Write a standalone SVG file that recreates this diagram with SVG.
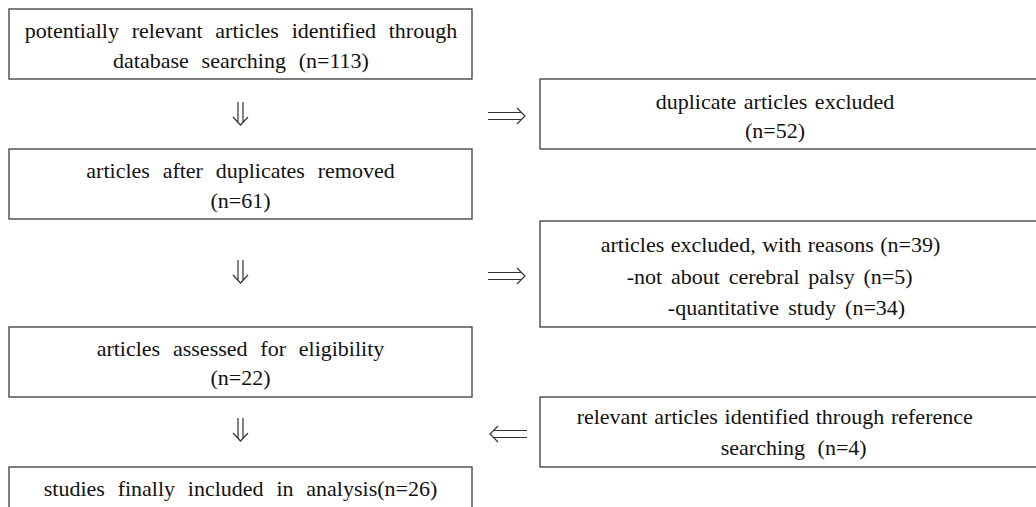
<svg xmlns="http://www.w3.org/2000/svg" width="1036" height="507" viewBox="0 0 1036 507">
<style>
.box{fill:#fff;stroke:#3a3a3a;stroke-width:1.3}
.t{font-family:"Liberation Serif","Times New Roman",serif;font-size:22px;fill:#111;text-anchor:middle}
.l{word-spacing:7.3px}
.arr{fill:none;stroke:#333;stroke-width:1.2}
</style>
<defs>
<path id="down" class="arr" d="M-2.5,0 V20 M2.5,0 V20 M-7.5,15 L0,23 L7.5,15"/>
<path id="right" class="arr" d="M0,-3.5 H33 M0,3.5 H33 M29,-8 L37,0 L29,8"/>
<path id="left" class="arr" d="M0,-3.5 H-33 M0,3.5 H-33 M-29,-8 L-37,0 L-29,8"/>
</defs>
<rect width="1036" height="507" fill="#fff"/>
<g id="n1">
<rect class="box" x="9" y="9" width="463" height="70"/>
<text class="t l" x="241" y="38">potentially relevant articles identified through</text>
<text class="t l" x="241" y="68">database searching (n=113)</text>
</g>
<g id="n2">
<rect class="box" x="9" y="149" width="463" height="70"/>
<text class="t l" x="240.5" y="178">articles after duplicates removed</text>
<text class="t l" x="240.5" y="208">(n=61)</text>
</g>
<g id="n3">
<rect class="box" x="9" y="327" width="463" height="70"/>
<text class="t l" x="240.5" y="356">articles assessed for eligibility</text>
<text class="t l" x="240.5" y="385">(n=22)</text>
</g>
<g id="n4">
<rect class="box" x="9" y="467" width="463" height="60"/>
<text class="t l" x="240.5" y="496">studies finally included in analysis(n=26)</text>
</g>
<g id="r1">
<rect class="box" x="540" y="79" width="510" height="70"/>
<text class="t" x="775" y="109" style="word-spacing:2px">duplicate articles excluded</text>
<text class="t" x="775" y="138">(n=52)</text>
</g>
<g id="r2">
<rect class="box" x="540" y="221" width="510" height="106"/>
<text class="t" x="770.5" y="252" style="word-spacing:1px">articles excluded, with reasons (n=39)</text>
<text class="t" x="769.7" y="284" style="word-spacing:3.3px">-not about cerebral palsy (n=5)</text>
<text class="t" x="786.5" y="315" style="word-spacing:3.7px">-quantitative study (n=34)</text>
</g>
<g id="r3">
<rect class="box" x="540" y="397" width="510" height="70"/>
<text class="t" x="774.7" y="424" style="word-spacing:1.3px">relevant articles identified through reference</text>
<text class="t" x="793.7" y="455" style="word-spacing:7px">searching (n=4)</text>
</g>
<g id="connectors">
<use href="#down" x="240.5" y="102"/>
<use href="#down" x="240.5" y="260"/>
<use href="#down" x="240.5" y="418"/>
<use href="#right" x="488" y="116"/>
<use href="#right" x="488" y="276"/>
<use href="#left" x="527" y="434"/>
</g>
</svg>
